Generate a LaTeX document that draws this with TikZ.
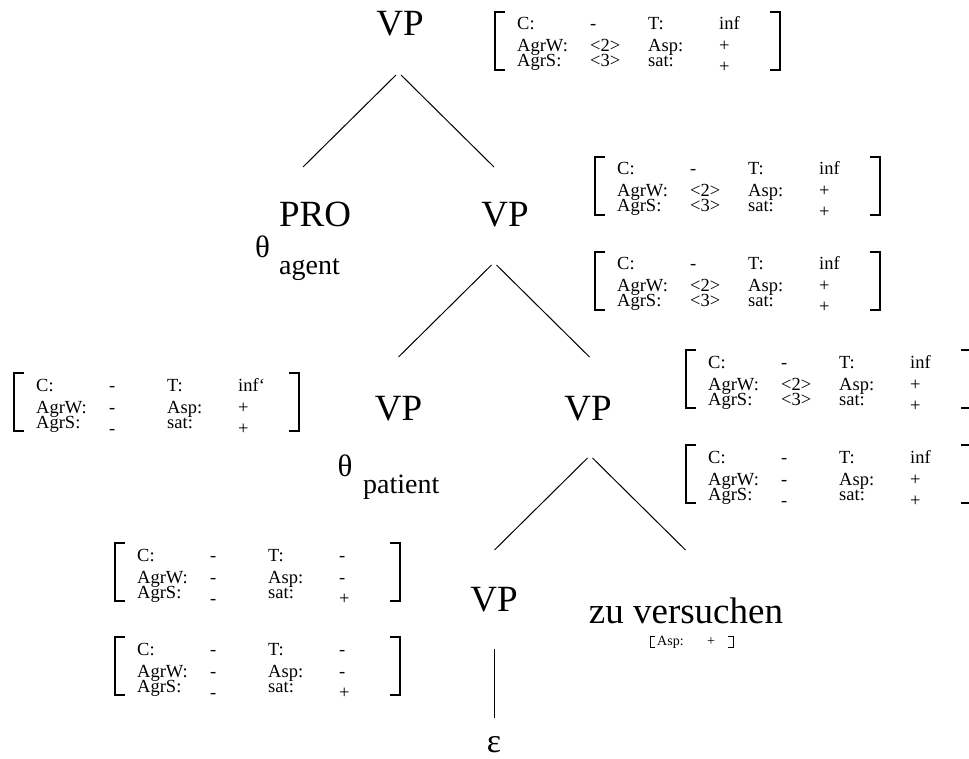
\documentclass[tikz,border=0pt]{standalone}
\usepackage{fontspec}
\setmainfont{Liberation Serif}
\usetikzlibrary{calc}
\tikzset{
  cat/.style    = {inner sep=0pt, anchor=base, font=\fontsize{37}{40}\selectfont},
  theta/.style  = {inner sep=0pt, anchor=base, font=\fontsize{31}{34}\selectfont},
  role/.style   = {inner sep=0pt, anchor=base west, font=\fontsize{28}{30}\selectfont},
  feat/.style   = {inner sep=0pt, anchor=base west, font=\fontsize{18.5}{22}\selectfont},
  featsm/.style = {inner sep=0pt, anchor=base west, font=\fontsize{14}{16}\selectfont},
  brk/.style    = {line width=1.1pt},
  branch/.style = {line width=1pt},
}
% values that sit a bit below their row
\newcommand\dropped[1]{\raisebox{-6pt}{#1}}
% feature matrix: name, top left corner, three rows
\newcommand\avm[5]{%
  \coordinate (#1) at (#2);
  \draw[brk] ($(#1)+(10,0)$) -- (#1) -- ++(0,58) -- ++(10,0);
  \draw[brk] ($(#1)+(275,0)$) -- ++(10,0) -- ++(0,58) -- ++(-10,0);
  \node[feat] (#1-f) at ($(#1)+(22,18)$)
    {\begin{tabular}[t]{@{}p{73pt}@{}p{58pt}@{}p{71pt}@{}l@{}}
      #3\\ #4\\ \noalign{\vskip-7pt} #5
     \end{tabular}};
}

\begin{document}
\begin{tikzpicture}[x=1pt,y=-1pt]
  \useasboundingbox (0,0) rectangle (969,759);
  \clip (0,0) rectangle (969,759);

  % tree
  \node[cat] (vp0) at (400,36) {VP};
  \node[cat] (pro) at (315,227) {PRO};
  \node[cat] (vp1) at (505,227) {VP};
  \node[theta] (th1) at (262.5,258) {θ};
  \node[role] (agent) at (279,275) {agent};
  \node[cat] (vp2) at (398.5,420) {VP};
  \node[cat] (vp3) at (588,420) {VP};
  \node[theta] (th2) at (345,476) {θ};
  \node[role] (patient) at (363,493) {patient};
  \node[cat] (vp4) at (494,611) {VP};
  \node[cat] (zu) at (686,623) {zu versuchen};
  \node[inner sep=0pt, anchor=base, font=\fontsize{34}{36}\selectfont] (eps) at (494,752) {ε};

  \coordinate (top0) at (398.5,75);
  \coordinate (top1) at (494,265);
  \coordinate (top2) at (590,458);
  \draw[branch] ([xshift=-2.5pt]top0) -- ++(-93,92);
  \draw[branch] ([xshift=2.5pt]top0)  -- ++(93,92);
  \draw[branch] ([xshift=-2.5pt]top1) -- ++(-93,92);
  \draw[branch] ([xshift=2.5pt]top1)  -- ++(93,92);
  \draw[branch] ([xshift=-2.5pt]top2) -- ++(-93,92);
  \draw[branch] ([xshift=2.5pt]top2)  -- ++(93,92);
  \draw[branch] ([yshift=-37pt]vp4.south) -- ([yshift=18pt]eps.north);

  % feature matrices
  \avm{avmA}{495,12}{C: & - & T: & inf}{AgrW: & <2> & Asp: & +}{AgrS: & <3> & sat: & \dropped{+}}
  \avm{avmB}{595,157}{C: & - & T: & inf}{AgrW: & <2> & Asp: & +}{AgrS: & <3> & sat: & \dropped{+}}
  \avm{avmC}{595,252}{C: & - & T: & inf}{AgrW: & <2> & Asp: & +}{AgrS: & <3> & sat: & \dropped{+}}
  \avm{avmD}{686,350}{C: & - & T: & inf}{AgrW: & <2> & Asp: & +}{AgrS: & <3> & sat: & \dropped{+}}
  \avm{avmE}{686,445}{C: & - & T: & inf}{AgrW: & - & Asp: & +}{AgrS: & \dropped{-} & sat: & \dropped{+}}
  \avm{avmF}{14,373}{C: & - & T: & inf‘}{AgrW: & - & Asp: & +}{AgrS: & \dropped{-} & sat: & \dropped{+}}
  \avm{avmG}{115,543}{C: & - & T: & -}{AgrW: & - & Asp: & -}{AgrS: & \dropped{-} & sat: & \dropped{+}}
  \avm{avmH}{115,637}{C: & - & T: & -}{AgrW: & - & Asp: & -}{AgrS: & \dropped{-} & sat: & \dropped{+}}

  % aspect of the infinitive
  \coordinate (avmZ) at (650,636);
  \draw[line width=0.8pt] ($(avmZ)+(5,0)$) -- (avmZ) -- ++(0,11) -- ++(5,0);
  \draw[line width=0.8pt] ($(avmZ)+(78,0)$) -- ++(5,0) -- ++(0,11) -- ++(-5,0);
  \node[featsm] (avmZ-f) at ($(avmZ)+(7,10)$)
    {\begin{tabular}{@{}p{50pt}@{}l@{}}Asp: & +\end{tabular}};
\end{tikzpicture}
\end{document}
